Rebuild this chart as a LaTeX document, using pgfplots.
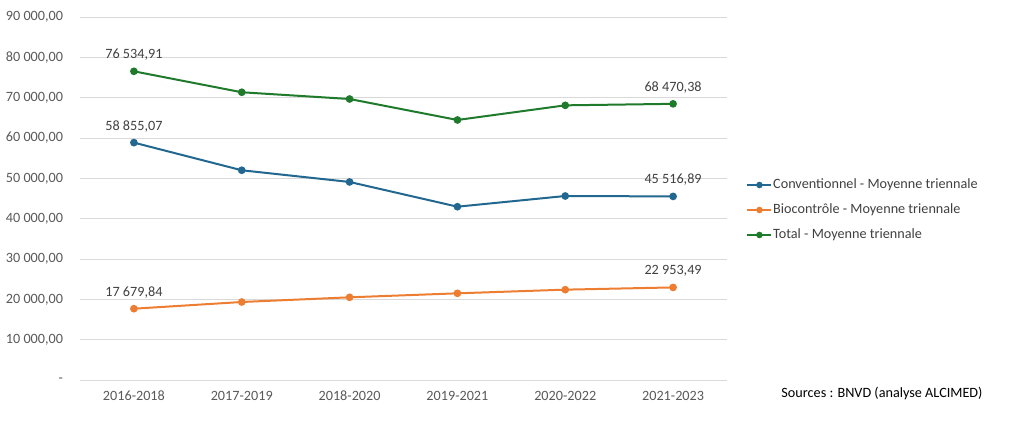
\documentclass[border=0pt]{standalone}
\usepackage{pgfplots}
\pgfplotsset{compat=1.18}
\usepackage{fontspec}
\setmainfont{Carlito}
\definecolor{cblue}{HTML}{21678F}
\definecolor{corange}{HTML}{ED7D31}
\definecolor{cgreen}{HTML}{1F7A2C}
\definecolor{tickgray}{HTML}{595959}
\definecolor{labgray}{HTML}{404040}
\definecolor{gridgray}{HTML}{D9D9D9}
\newcommand{\fs}{\fontsize{14.2pt}{16pt}\selectfont}
\begin{document}
\fs
\begin{tikzpicture}
\path[use as bounding box] (0,0) rectangle (1024pt,423pt);
\begin{axis}[
  at={(80pt,43pt)}, anchor=south west,
  scale only axis, width=647pt, height=363pt,
  xmin=-0.5, xmax=5.5, ymin=0, ymax=90000,
  scaled y ticks=false,
  xtick={0,1,2,3,4,5},
  xticklabels={2016-2018,2017-2019,2018-2020,2019-2021,2020-2022,2021-2023},
  ytick={0,10000,20000,30000,40000,50000,60000,70000,80000,90000},
  yticklabels={-\hspace{9pt},10 000{,}00,20 000{,}00,30 000{,}00,40 000{,}00,50 000{,}00,60 000{,}00,70 000{,}00,80 000{,}00,90 000{,}00},
  ticklabel style={font=\fs, text=tickgray},
  yticklabel style={xshift=-12pt},
  xticklabel style={yshift=-6pt},
  major tick length=0pt,
  axis line style={draw=none},
  ymajorgrids, grid style={gridgray, line width=1pt},
  legend style={at={(1.03,0.557)}, anchor=north west, draw=none, fill=none,
    font=\fs, text=labgray, row sep=11pt,
    inner sep=0pt, nodes={inner sep=1pt}},
  legend cell align=left,
  legend image code/.code={
    \draw[#1, line width=1.6pt] (0pt,0pt) -- (24pt,0pt);
    \fill[#1] (12pt,0pt) circle (2.2pt);
  },
  every axis plot/.append style={line width=2pt, mark=*, mark size=2.8pt},
  clip=false,
]
\addplot[cblue, mark options={fill=cblue, draw=cblue}] coordinates {
 (0,58855.07) (1,52000) (2,49100) (3,42970) (4,45620) (5,45516.89)};
\addlegendentry{Conventionnel - Moyenne triennale}
\addplot[corange, mark options={fill=corange, draw=corange}] coordinates {
 (0,17679.84) (1,19340) (2,20500) (3,21490) (4,22400) (5,22953.49)};
\addlegendentry{Biocontrôle - Moyenne triennale}
\addplot[cgreen, mark options={fill=cgreen, draw=cgreen}] coordinates {
 (0,76534.91) (1,71340) (2,69670) (3,64470) (4,68100) (5,68470.38)};
\addlegendentry{Total - Moyenne triennale}
\addplot[draw=none, mark=none, forget plot,
  nodes near coords, point meta=explicit symbolic,
  every node near coord/.append style={font=\fs, text=labgray, anchor=south, yshift=5pt}]
 table[meta=lab, row sep=\\] {
 x y lab\\
 0 58855.07 {58 855,07}\\
 5 45516.89 {45 516,89}\\
 0 17679.84 {17 679,84}\\
 5 22953.49 {22 953,49}\\
 0 76534.91 {76 534,91}\\
 5 68470.38 {68 470,38}\\
 };
\end{axis}
\node[font=\fs, text=black] at (882pt,30pt) {Sources : BNVD (analyse ALCIMED)};
\end{tikzpicture}
\end{document}
